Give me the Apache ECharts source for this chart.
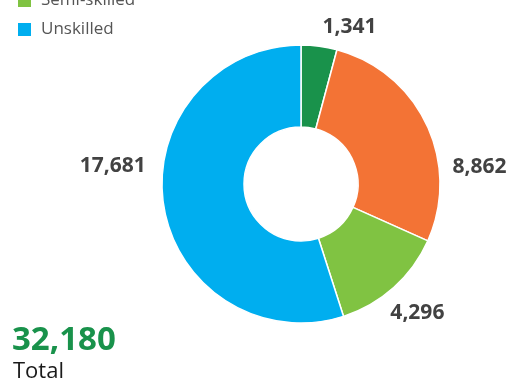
<!DOCTYPE html>
<html>
<head>
<meta charset="utf-8">
<script src="https://cdn.jsdelivr.net/npm/echarts@6/dist/echarts.min.js"></script>
<style>
  html, body { margin: 0; padding: 0; background: #fff; }
  #chart { width: 515px; height: 381px; }
</style>
</head>
<body>
<div id="chart"></div>
<script>
// workforce by skill level
const categories = ['Managerial', 'Skilled', 'Semi-skilled', 'Unskilled']
const values = [1341, 8862, 4296, 17681]
const colors = ['#19924b', '#f37335', '#80c342', '#00aeef']
const legendItems = ['Semi-skilled', 'Unskilled']
const totalLabel = 'Total'

// label nudges so numbers sit where the original had them
const labelDx = [-3, 12, -15, -3]
const labelDy = [-9, 47, 18, -41]

const total = values.reduce((a, b) => a + b, 0)
const fmt = v => v.toLocaleString('en-US')

const chart = echarts.init(document.getElementById('chart'))
chart.setOption({
  animation: false,
  color: colors,
  legend: {
    data: legendItems,
    orient: 'vertical',
    left: 16,
    top: -8,
    padding: 0,
    itemWidth: 15,
    itemHeight: 15,
    itemGap: 12,
    icon: 'rect',
    textStyle: {
      fontFamily: 'Open Sans',
      fontSize: 17,
      color: '#555',
      padding: [0, 0, 0, 4]
    }
  },
  graphic: [
    {
      type: 'text',
      left: 12,
      top: 324,
      style: {
        text: fmt(total),
        font: 'bold 33px "Open Sans"',
        fill: '#19924b'
      }
    },
    {
      type: 'text',
      left: 13,
      top: 361,
      style: {
        text: totalLabel,
        font: '22px "Open Sans"',
        fill: '#1a1a1a'
      }
    }
  ],
  series: [{
    type: 'pie',
    center: [301, 184],
    radius: [57, 139],
    startAngle: 90,
    clockwise: true,
    avoidLabelOverlap: false,
    itemStyle: { borderColor: '#fff', borderWidth: 1.5 },
    label: {
      show: true,
      position: 'outside',
      formatter: p => fmt(p.value),
      fontFamily: 'Open Sans',
      fontWeight: 'bold',
      fontSize: 21,
      color: '#424242'
    },
    labelLine: { show: false, length: 10, length2: 0 },
    labelLayout: p => ({ dx: labelDx[p.dataIndex], dy: labelDy[p.dataIndex] }),
    emphasis: { disabled: true },
    data: categories.map((c, i) => ({ name: c, value: values[i] }))
  }]
})
</script>
</body>
</html>
